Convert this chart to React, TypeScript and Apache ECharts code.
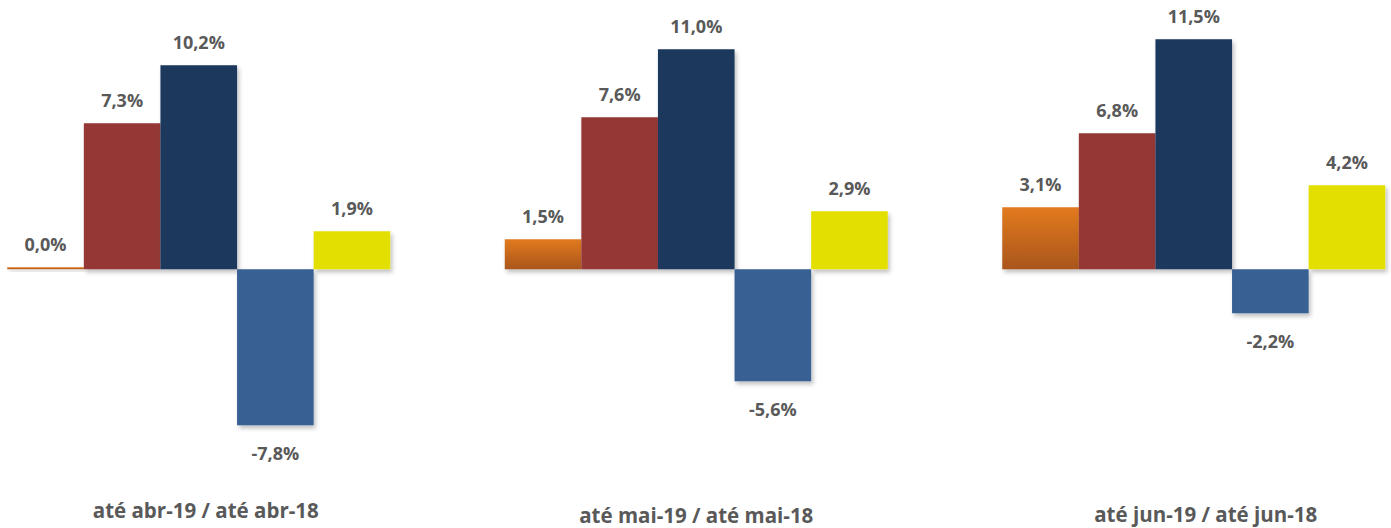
import React, { useEffect, useRef } from "react";
import * as echarts from "echarts";

const categories = ["até abr-19 / até abr-18", "até mai-19 / até mai-18", "até jun-19 / até jun-18"];
const seriesOrange = [0.0, 1.5, 3.1];
const seriesRed = [7.3, 7.6, 6.8];
const seriesNavy = [10.2, 11.0, 11.5];
const seriesSteel = [-7.8, -5.6, -2.2];
const seriesYellow = [1.9, 2.9, 4.2];

const labelColor = "#595959";
const fontFamily = "'Open Sans', 'Liberation Sans', sans-serif";

const fmt = (v: number) => v.toFixed(1).replace(".", ",") + "%";

export default function App() {
  const ref = useRef<HTMLDivElement>(null);
  useEffect(() => {
    document.body.style.margin = "0";
    if (!ref.current) return;
    const chart = echarts.init(ref.current, undefined, { renderer: "svg" });
    const shadow = {
      shadowBlur: 4,
      shadowOffsetX: 2,
      shadowOffsetY: 3,
      shadowColor: "rgba(0,0,0,0.25)",
    };
    const label = (pos: "top" | "bottom", dist: number) => ({
      show: true,
      position: pos,
      distance: dist,
      color: labelColor,
      fontFamily,
      fontWeight: "bold" as const,
      fontSize: 18,
      formatter: (p: any) => fmt(p.value),
    });
    const mk = (name: string, data: number[], color: any, pos: "top" | "bottom", dist: number, extra: any = {}) => ({
      name,
      type: "bar",
      data,
      barWidth: 76.6,
      barGap: "0%",
      itemStyle: { color, ...shadow },
      label: label(pos, dist),
      emphasis: { disabled: true },
      ...extra,
    });
    const catStyle = { color: labelColor, fontFamily, fontWeight: "bold", fontSize: 20.5 };
    chart.setOption({
      animation: false,
      grid: {
        left: -50,
        top: 9.3,
        width: 1492.5,
        height: 460,
        containLabel: false,
        outerBoundsMode: "none",
      },
      xAxis: {
        type: "category",
        data: categories,
        axisLine: { show: false, onZero: false },
        axisTick: { show: false },
        axisLabel: {
          margin: 30,
          interval: 0,
          formatter: (v: string, i: number) => `{c${i}|${v}}`,
          rich: {
            c0: { padding: [0, 0, 0, 14], ...catStyle },
            c1: { padding: [5, 0, 0, 0], ...catStyle },
            c2: { padding: [4, 0, 0, 24], ...catStyle },
          },
        },
      },
      yAxis: {
        type: "value",
        min: -10,
        max: 13,
        show: false,
        splitLine: { show: false },
      },
      series: [
        mk(
          "Laranja",
          seriesOrange,
          new echarts.graphic.LinearGradient(0, 0, 0, 1, [
            { offset: 0, color: "#E27A20" },
            { offset: 1, color: "#A9561A" },
          ]),
          "top",
          14,
          { barMinHeight: 2 }
        ),
        mk("Vermelho", seriesRed, "#953735", "top", 14),
        mk("Azul escuro", seriesNavy, "#1B375D", "top", 14),
        mk("Azul", seriesSteel, "#376092", "bottom", 19),
        mk("Amarelo", seriesYellow, "#E3DF00", "top", 14),
      ],
    });
    return () => chart.dispose();
  }, []);
  return <div ref={ref} style={{ width: 1391, height: 528 }} />;
}
